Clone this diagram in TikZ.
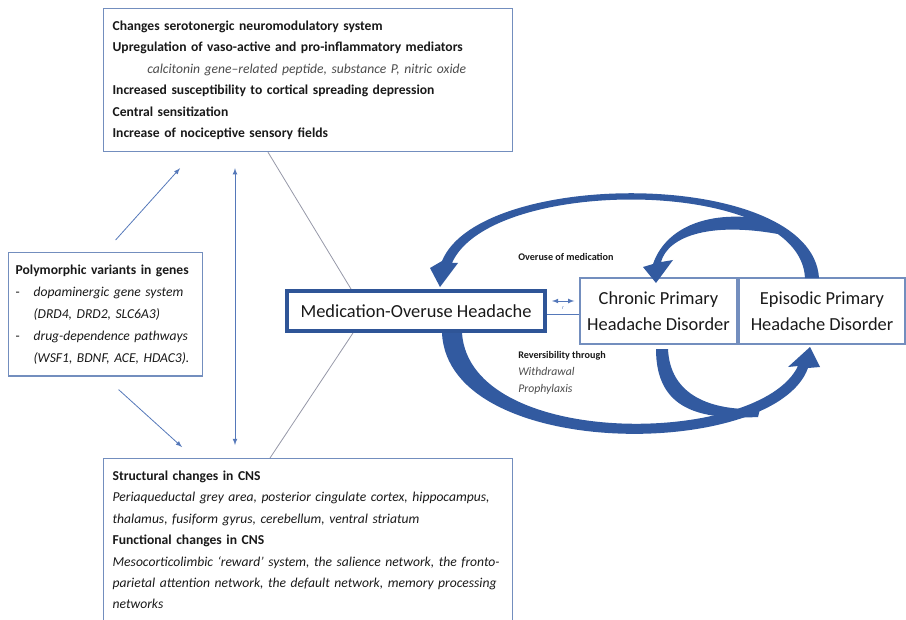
\documentclass[tikz,border=0pt]{standalone}
\usepackage{fontspec}
\setmainfont{Carlito}
\usetikzlibrary{arrows,calc}

\definecolor{boxline}{RGB}{115,142,190}
\definecolor{mohblue}{RGB}{47,85,151}
\definecolor{arrowblue}{RGB}{50,90,160}
\definecolor{linkblue}{RGB}{85,120,185}
\definecolor{linkgray}{RGB}{150,152,168}
\definecolor{txt}{RGB}{25,25,25}
\definecolor{softtxt}{RGB}{75,75,75}

\newcommand{\boxfont}{\fontsize{10.2}{16.1}\selectfont}
\newcommand{\bigfont}{\fontsize{13.8}{19.5}\selectfont}
\newcommand{\notefont}{\fontsize{7.6}{12.75}\selectfont}
\newcommand{\noteit}{\fontsize{8.8}{12.75}\selectfont\itshape}

\tikzset{
  infobox/.style={draw=boxline, line width=0.9pt, anchor=north west, align=left,
    inner xsep=6.75pt, inner ysep=9pt, font=\boxfont, text=txt},
  disorder/.style={draw=boxline, line width=1pt, align=center, inner sep=0pt,
    minimum height=49.5pt, font=\bigfont, text=txt},
  thinarrow/.style={draw=linkblue, line width=0.6pt},
  link/.style={draw=linkgray, line width=0.6pt},
  flow/.style={fill=arrowblue},
  note/.style={anchor=west, inner sep=0.75pt, align=left, font=\notefont, text=txt}
}

\begin{document}
\begin{tikzpicture}[x=0.75pt,y=0.75pt,yscale=-1,xscale=1]
  \useasboundingbox (0,0) rectangle (906,620);

  % Text Node: effects
  \node[infobox, text width=293pt] (effects) at (103,8)
    {\textbf{Changes serotonergic neuromodulatory system}\\
     \textbf{Upregulation of vaso-active and pro-inflammatory mediators}\\
     \hspace*{26pt}\textcolor{softtxt}{\textit{calcitonin gene--related peptide, substance P, nitric oxide}}\\
     \textbf{Increased susceptibility to cortical spreading depression}\\
     \textbf{Central sensitization}\\
     \textbf{Increase of nociceptive sensory fields}};
  % Text Node: genes
  \node[infobox, text width=135pt, inner xsep=5.25pt, minimum height=90pt,
        font=\fontsize{10.2}{16.5}\selectfont] (genes) at (8,252)
    {\textbf{Polymorphic variants in genes}\\
     \makebox[13.5pt][l]{-}\textit{dopaminergic gene system}\\
     \hspace*{13.5pt}\textit{(DRD4, DRD2, SLC6A3)}\\
     \makebox[13.5pt][l]{-}\textit{drug-dependence pathways}\\
     \hspace*{13.5pt}\textit{(WSF1, BDNF, ACE, HDAC3).}};
  % Text Node: cns
  \node[infobox, text width=293pt] (cns) at (103,458)
    {\textbf{Structural changes in CNS}\\
     \textit{Periaqueductal grey area, posterior cingulate cortex, hippocampus,}\\
     \textit{thalamus, fusiform gyrus, cerebellum, ventral striatum}\\
     \textbf{Functional changes in CNS}\\
     \textit{Mesocorticolimbic `reward' system, the salience network, the fronto-}\\
     \textit{parietal attention network, the default network, memory processing}\\
     \textit{networks}};

  % Shape: headache boxes
  \node[draw=mohblue, line width=3pt, minimum width=193.5pt, minimum height=30pt,
        inner sep=0pt, font=\bigfont, text=txt] (moh) at (416,311) {Medication-Overuse Headache};
  \node[disorder, minimum width=117.75pt] (chronic) at (658.5,311) {Chronic Primary\\Headache Disorder};
  \node[disorder, minimum width=124.5pt] (episodic) at (822,311) {Episodic Primary\\Headache Disorder};

  % Straight Lines
  \draw[link] ($(effects.south west)+(165,0)$) -- ($(moh.north west)+(66,0)$);
  \draw[link] ($(moh.south west)+(68,0)$) -- ($(cns.north west)+(167,0)$);
  \draw[thinarrow,-latex] ($(genes.north)+(10,-12)$) -- ($(effects.south west)+(77,16)$);
  \draw[thinarrow,-latex] ($(genes.south)+(13,13)$) -- ($(cns.north west)+(79,-11)$);
  \draw[thinarrow,latex-latex] ($(effects.south west)+(132,16)$) -- ($(cns.north west)+(132,-13)$);
  \draw[thinarrow] ($(moh.east)+(0,3)$) -- ($(chronic.west)+(0,3)$);
  \draw[thinarrow,latex-latex] ($(moh.east)+(5,-10)$) -- ($(chronic.west)+(-5,-10)$);
  \node[font=\fontsize{4}{4}\selectfont, text=linkblue, inner sep=0pt] (rmark)
    at ($(moh.east)!0.5!(chronic.west)+(0,-3)$) {r};

  % Curved Arrow: episodic -> medication overuse
  \fill[flow] (819,278) .. controls (812,168) and (480,168) .. (442,261)
    -- (430,268) -- (440,287) -- (458,263) -- (452,263)
    .. controls (490,176) and (800,176) .. (805,278) -- cycle;
  % Curved Arrow: episodic -> chronic
  \fill[flow] (757,218) .. controls (700,211) and (664,232) .. (653,264)
    -- (643,267) -- (656,283) -- (673,260) -- (661,262)
    .. controls (668,236) and (712,220) .. (788,236) -- cycle;
  % Curved Arrow: medication overuse -> episodic
  \fill[flow] (442,333) .. controls (448,462) and (775,460) .. (808,368)
    -- (820,367) -- (810,347) -- (788,367) -- (798,366)
    .. controls (760,446) and (470,450) .. (462,333) -- cycle;
  % Curved Arrow: chronic -> episodic
  \fill[flow] (656,349) .. controls (656,410) and (700,420) .. (758,417)
    -- (760,409) .. controls (710,411) and (670,395) .. (668,349) -- cycle;

  % Text Node: arrow labels
  \node[note, font=\notefont\bfseries] (overuse) at (517,257) {Overuse of medication};
  \node[note] (reversal) at (517,373)
    {\textbf{Reversibility through}\\
     \textcolor{softtxt}{\noteit Withdrawal}\\
     \textcolor{softtxt}{\noteit Prophylaxis}};
\end{tikzpicture}
\end{document}
